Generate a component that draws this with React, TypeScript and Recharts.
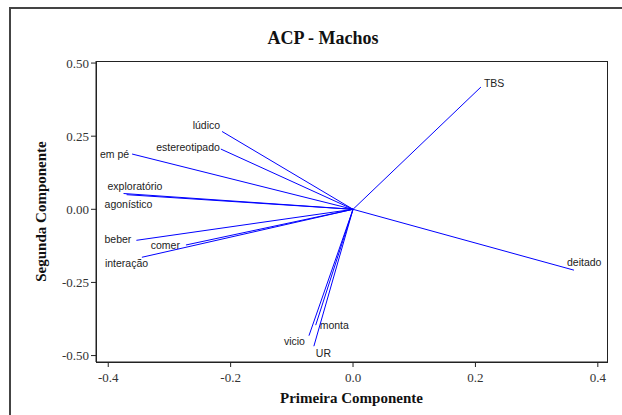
import React from "react";
import { ScatterChart, Scatter, XAxis, YAxis } from "recharts";

// loadings (Primeira / Segunda Componente)
const variables = ["TBS", "deitado", "lúdico", "estereotipado", "em pé", "exploratório", "agonístico", "beber", "comer", "interação", "monta", "vicio", "UR"];
const pc1 = [0.209, 0.361, -0.214, -0.216, -0.361, -0.375, -0.37, -0.354, -0.273, -0.345, -0.061, -0.072, -0.064];
const pc2 = [0.418, -0.208, 0.266, 0.206, 0.189, 0.054, 0.05, -0.106, -0.122, -0.164, -0.396, -0.432, -0.468];

const xTicks = [-0.4, -0.2, 0, 0.2, 0.4];
const yTicks = [-0.5, -0.25, 0, 0.25, 0.5];

// where each label sits relative to its arrow tip
const labelPos: Record<string, { dx: number; dy: number; anchor: "start" | "end" }> = {
  TBS: { dx: 3, dy: -4, anchor: "start" },
  deitado: { dx: -7, dy: -8, anchor: "start" },
  "lúdico": { dx: -2, dy: -6, anchor: "end" },
  estereotipado: { dx: -1, dy: -2, anchor: "end" },
  "em pé": { dx: -3, dy: 0, anchor: "end" },
  "exploratório": { dx: -16, dy: -8, anchor: "start" },
  "agonístico": { dx: -22, dy: 9, anchor: "start" },
  beber: { dx: -5, dy: -1, anchor: "end" },
  comer: { dx: -6, dy: 0, anchor: "end" },
  "interação": { dx: -37, dy: 6, anchor: "start" },
  monta: { dx: 4, dy: 0, anchor: "start" },
  vicio: { dx: -4, dy: 5, anchor: "end" },
  UR: { dx: 2, dy: 7, anchor: "start" },
};

const serif = "'Liberation Serif', 'Times New Roman', serif";
const sans = "'Liberation Sans', Arial, sans-serif";

const TipLabel = (props: any) => {
  const { cx, cy, payload } = props;
  if (!payload || !payload.tip) return <g />;
  const p = labelPos[payload.name];
  return (
    <text x={cx + p.dx} y={cy + p.dy} textAnchor={p.anchor} dominantBaseline="central" fontFamily={sans} fontSize={10.5} fill="#222">
      {payload.name}
    </text>
  );
};

const XTick = (props: any) => {
  const { x, y, payload } = props;
  return (
    <text x={x} y={y + 8} textAnchor="middle" dominantBaseline="central" fontFamily={serif} fontSize={13} fill="#333">
      {payload.value.toFixed(1)}
    </text>
  );
};

const YTick = (props: any) => {
  const { x, y, payload } = props;
  return (
    <text x={x} y={y} textAnchor="end" dominantBaseline="central" fontFamily={serif} fontSize={13} fill="#333">
      {payload.value.toFixed(2)}
    </text>
  );
};

export default function App() {
  return (
    <div style={{ position: "absolute", left: 0, top: 0, width: 622, height: 415, overflow: "hidden", background: "#fff" }}>
      <div style={{ position: "absolute", left: 9, top: 7, width: 700, height: 500, border: "2px solid #444" }} />
      <div style={{ position: "absolute", left: 11, top: 28, width: 624, textAlign: "center", fontFamily: serif, fontWeight: "bold", fontSize: 18, lineHeight: "20px", color: "#111" }}>
        ACP - Machos
      </div>
      <div style={{ position: "absolute", left: 96, top: 61, width: 510, height: 300, border: "1px solid #222" }} />
      <div style={{ position: "absolute", left: 0, top: 0 }}>
        <ScatterChart width={622} height={415} margin={{ top: 61, right: 15, bottom: 3, left: 0 }}>
          <XAxis
            type="number"
            dataKey="x"
            domain={[-0.42, 0.415]}
            ticks={xTicks}
            height={50}
            stroke="#222"
            tickSize={5}
            tick={<XTick />}
            label={{ value: "Primeira Componente", position: "insideBottom", offset: 9, fontFamily: serif, fontWeight: "bold", fontSize: 15, fill: "#111" }}
          />
          <YAxis
            type="number"
            dataKey="y"
            domain={[-0.522, 0.507]}
            ticks={yTicks}
            width={96}
            stroke="#222"
            tickSize={5}
            tick={<YTick />}
            label={{ value: "Segunda Componente", angle: -90, position: "center", dx: -7, fontFamily: serif, fontWeight: "bold", fontSize: 15, fill: "#111" }}
          />
          {variables.map((name, i) => (
            <Scatter
              key={name}
              data={[
                { x: 0, y: 0, name, tip: false },
                { x: pc1[i], y: pc2[i], name, tip: true },
              ]}
              line={{ stroke: "#0000ff", strokeWidth: 1 }}
              shape={TipLabel}
              isAnimationActive={false}
            />
          ))}
        </ScatterChart>
      </div>
    </div>
  );
}
